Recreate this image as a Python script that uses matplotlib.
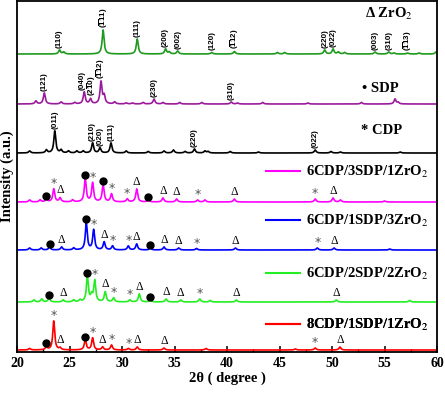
import numpy as np
import matplotlib
matplotlib.use("Agg")
import matplotlib.pyplot as plt
from matplotlib.lines import Line2D
from matplotlib.ticker import MultipleLocator

plt.rcParams['mathtext.fontset'] = 'custom'
plt.rcParams['mathtext.rm'] = 'Liberation Sans'
plt.rcParams['mathtext.bf'] = 'Liberation Sans:bold'

# ---- data (peak positions in 2theta, intensities in a.u.) ----
# ZrO2 reference
zro2_pos = [24.05, 24.45, 28.2, 31.45, 34.15, 34.5, 35.3, 38.55, 40.7, 44.8,
            45.5, 49.3, 50.1, 50.6, 51.2, 54.1, 55.4, 55.9, 57.2, 58.3, 59.9]
zro2_int = [4, 2, 24, 15, 5, 2, 3, 1.5, 2.5, 1.5, 1.5, 4, 5, 2, 1.5, 2, 2, 1, 1, 1, 2]
zro2_hkl = [(24.05, '(110)'), (28.2, r'$\mathbf{(\overline{1}11)}$'), (31.45, '(111)'),
            (34.15, '(200)'), (35.3, '(002)'), (38.55, '(120)'),
            (40.7, r'$\mathbf{(\overline{1}12)}$'), (49.3, '(220)'), (50.1, '(022)'),
            (54.1, '(003)'), (55.4, '(310)'), (57.2, r'$\mathbf{(\overline{1}13)}$')]

# SDP reference
sdp_pos = [21.8, 22.6, 24.2, 25.5, 26.4, 27.0, 28.0, 28.3, 29.3, 30.4, 31.0,
           32.0, 33.05, 33.9, 35.5, 37.6, 40.4, 41.0, 43.4, 47.7, 52.8, 56.0, 56.3]
sdp_int = [3, 11, 2, 1.5, 12, 5, 22, 8, 2, 1, 1, 1.5, 5, 1.5, 1.5, 1.5, 2, 1,
           1.5, 1, 1.5, 5, 1.5]
sdp_hkl = [(22.6, '(121)'), (26.25, '(040)'), (27.1, r'$\mathbf{(2\overline{1}0)}$'),
           (28.0, r'$\mathbf{(\overline{1}12)}$'), (33.05, '(230)'), (40.4, '(310)')]

# CDP reference
cdp_pos = [21.2, 22.8, 23.6, 24.2, 24.9, 25.7, 26.3, 27.2, 27.9, 28.95, 30.4,
           32.5, 34.0, 34.9, 36.0, 36.9, 37.9, 38.2, 40.3, 43.0, 48.4, 49.9, 50.8, 56.5]
cdp_int = [2, 3, 22, 3, 2, 2, 2, 10, 5, 10, 2, 1.5, 2, 3, 1.5, 4, 2, 1.5, 1.5,
           1, 3, 1.5, 1, 1]
cdp_hkl = [(23.6, '(011)'), (27.15, '(210)'), (27.95, '(020)'), (28.95, '(111)'),
           (36.9, '(220)'), (48.4, '(022)')]

# composites
s631_pos = [21.2, 22.2, 22.8, 23.5, 24.1, 25.3, 26.5, 27.2, 28.2, 29.0, 30.5,
            31.4, 32.5, 33.9, 35.2, 37.2, 37.9, 40.7, 48.4, 50.1, 50.8, 55.0]
s631_int = [2, 2, 3, 13, 4, 2, 23, 19, 17, 8, 3, 13, 2, 4, 3, 2, 2, 3, 3, 4, 2, 1]
s631_mark = [(22.8, 'o'), (23.5, '*'), (24.1, 'd'), (26.5, 'o'), (27.2, '*'),
             (28.2, 'o'), (29.0, '*'), (30.5, '*'), (31.4, 'd'), (32.5, 'o'),
             (33.9, 'd'), (35.2, 'd'), (37.2, '*'), (40.7, 'd'), (48.4, '*'), (50.1, 'd')]

s613_pos = [21.2, 22.3, 23.1, 24.25, 25.4, 26.6, 27.3, 28.3, 29.1, 30.6, 31.4,
            32.7, 34.0, 35.4, 37.1, 40.8, 48.6, 50.2, 55.5]
s613_int = [2, 2, 3, 3, 2, 27, 20, 8, 4, 4, 6, 2, 3, 2, 1.5, 2, 2, 2, 1]
s613_mark = [(23.1, 'o'), (24.25, 'd'), (26.6, 'o'), (27.3, '*'), (28.3, 'd'),
             (29.1, '*'), (30.6, '*'), (31.4, 'd'), (32.7, 'o'), (34.0, 'd'),
             (35.4, 'd'), (37.1, '*'), (40.8, 'd'), (48.6, '*'), (50.2, 'd')]

s622_pos = [21.6, 22.35, 23.05, 24.4, 25.4, 26.0, 26.7, 27.1, 27.4, 28.4, 29.2,
            30.75, 31.65, 32.7, 34.2, 35.6, 37.4, 38.4, 40.9, 50.4, 57.4]
s622_int = [2, 3, 4, 2, 2, 2, 25, 6, 21, 10, 4, 2, 8, 2, 3, 2, 3, 1.5, 2, 2, 1.5]
s622_mark = [(23.05, 'o'), (24.4, 'd'), (26.7, 'o'), (27.4, '*'), (28.4, 'd'),
             (29.2, '*'), (30.75, '*'), (31.65, 'd'), (32.7, 'o'), (34.2, 'd'),
             (35.6, 'd'), (37.4, '*'), (40.9, 'd'), (50.4, 'd')]

s811_pos = [21.2, 22.8, 23.5, 24.1, 26.5, 27.2, 28.15, 29.0, 30.6, 31.45, 34.0,
            38.0, 46.5, 48.4, 50.75]
s811_int = [1.5, 3, 29, 2, 10, 12, 3, 5, 1.5, 3, 2, 1.5, 1, 2, 3]
s811_mark = [(22.8, 'o'), (23.5, '*'), (24.1, 'd'), (26.5, 'o'), (27.2, '*'),
             (28.15, 'd'), (29.0, '*'), (30.6, '*'), (31.45, 'd'), (34.0, 'd'),
             (48.4, '*'), (50.75, 'd')]

labels = ['6CDP/3SDP/1ZrO$_2$', '6CDP/1SDP/3ZrO$_2$',
          '6CDP/2SDP/2ZrO$_2$', '8CDP/1SDP/1ZrO$_2$']
offsets = [298, 248, 199, 150, 102, 50, 2]
colors = ['#1f9a1f', '#9b1a9b', 'black', '#ff00ff', '#0000ff', '#22ee22', '#ff0000']

x = np.linspace(20, 60, 4001)
gam = 0.11


def profile(pos, inten, xx):
    y = np.zeros_like(xx, dtype=float)
    for p, h in zip(pos, inten):
        y += h * gam ** 2 / ((xx - p) ** 2 + gam ** 2)
    return y


fig = plt.figure(figsize=(4.45, 3.94), dpi=100)
ax = fig.add_axes([17 / 445, 1 - 352 / 394, 420 / 445, 351 / 394])

serif_b = dict(family='Liberation Serif', weight='bold')
all_pos = [zro2_pos, sdp_pos, cdp_pos, s631_pos, s613_pos, s622_pos, s811_pos]
all_int = [zro2_int, sdp_int, cdp_int, s631_int, s613_int, s622_int, s811_int]
hkls = [zro2_hkl, sdp_hkl, cdp_hkl]
marks = [s631_mark, s613_mark, s622_mark, s811_mark]

for i, (pos, inten) in enumerate(zip(all_pos, all_int)):
    y = profile(pos, inten, x) + offsets[i]
    ax.plot(x, y, color=colors[i], lw=1.2)
    if i < 3:
        for p, t in hkls[i]:
            # label sits above the nearest peak
            top = profile(pos, inten, np.array([p])).max() + offsets[i]
            pk = min(pos, key=lambda q: abs(q - p))
            top = max(top, profile(pos, inten, np.array([pk]))[0] + offsets[i])
            ax.text(p, top + 2, t, rotation=90, ha='center', va='bottom',
                    fontsize=5.8, family='Liberation Sans', weight='bold')
    else:
        for p, m in marks[i - 3]:
            top = profile(pos, inten, np.array([p]))[0] + offsets[i]
            if m == 'o':
                ax.plot(p, top + 3, 'o', color='black', ms=5)
            elif m == '*':
                ax.text(p, top + 5, '*', ha='center', va='center', fontsize=9,
                        color='#555555', family='DejaVu Sans')
            else:
                ax.text(p, top + 1, 'Δ', ha='center', va='bottom', fontsize=8.5,
                        family='Liberation Serif')

# phase names
ax.text(53.1, 338, 'Δ ZrO$_2$', fontsize=10.5, va='center', math_fontfamily='stix', **serif_b)
ax.text(52.9, 264, '• SDP', fontsize=10.5, va='center', **serif_b)
ax.text(52.8, 221, '* CDP', fontsize=10.5, va='center', **serif_b)

# sample legends
leg_y = [180, 131, 78, 27]
for i in range(4):
    h = Line2D([], [], color=colors[i + 3], lw=1.5)
    lg = ax.legend([h], [labels[i]], loc='center right',
                   bbox_to_anchor=(1.0, leg_y[i] / 351), frameon=False,
                   handlelength=2.3, handletextpad=0.4, borderpad=0.1,
                   prop=dict(family='Liberation Serif', weight='bold', size=10.5,
                             math_fontfamily='stix'))
    ax.add_artist(lg)

ax.set_xlim(20, 60)
ax.set_ylim(0, 351)
ax.set_yticks([])
ax.xaxis.set_major_locator(MultipleLocator(5))
ax.xaxis.set_minor_locator(MultipleLocator(2.5))
ax.tick_params(axis='x', which='major', direction='in', length=4, width=1.1)
ax.tick_params(axis='x', which='minor', direction='in', length=2, width=1)
for lab in ax.get_xticklabels():
    lab.set_fontfamily('Liberation Serif')
    lab.set_fontweight('bold')
    lab.set_fontsize(10)
for s in ax.spines.values():
    s.set_linewidth(1.3)
ax.set_xlabel('2θ ( degree )', fontsize=10.5, labelpad=1, **serif_b)
ax.set_ylabel('Intensity (a.u.)', fontsize=10.5, labelpad=2, **serif_b)

fig.savefig('out.png', dpi=100)
